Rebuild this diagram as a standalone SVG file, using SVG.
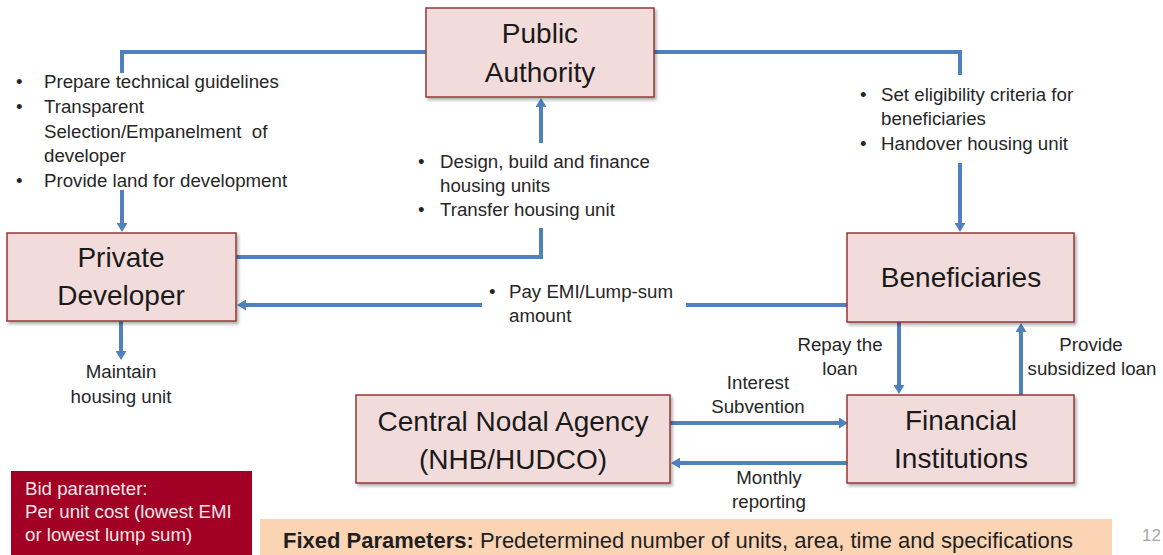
<svg xmlns="http://www.w3.org/2000/svg" width="1163" height="555" viewBox="0 0 1163 555">
<style>
.box{fill:#F2DCDB;stroke:#953735;stroke-width:1.5;filter:url(#sh)}
.big{font-family:"Liberation Sans",Arial,sans-serif;font-size:28px;fill:#1a1a1a;text-anchor:middle}
.sm{font-family:"Liberation Sans",Arial,sans-serif;font-size:18.7px;fill:#262626}
.mid{text-anchor:middle}
.con{fill:none;stroke:#4F81BD;stroke-width:4}
.arr{marker-end:url(#ah)}
</style>
<defs>
<filter id="sh" x="-10%" y="-10%" width="130%" height="140%">
<feDropShadow dx="2" dy="2.5" stdDeviation="1.5" flood-color="#000" flood-opacity="0.3"/>
</filter>
<marker id="ah" markerUnits="userSpaceOnUse" markerWidth="10" markerHeight="11" refX="1" refY="5.5" orient="auto">
<path d="M0,0 L9,5.5 L0,11 z" fill="#4F81BD"/>
</marker>
</defs>
<rect width="1163" height="555" fill="#ffffff"/>

<g id="connectors">
<path class="con" d="M426,52 H122 V73"/>
<path class="con arr" d="M122,190 V224"/>
<path class="con" d="M654,52 H960 V75"/>
<path class="con arr" d="M960,163 V224"/>
<path class="con" d="M236,257 H541 V228"/>
<path class="con arr" d="M541,143 V106"/>
<path class="con" d="M847,305 H686"/>
<path class="con arr" d="M482,305 H245"/>
<path class="con arr" d="M121,321 V352"/>
<path class="con arr" d="M899,322 V386"/>
<path class="con arr" d="M1021,395 V331"/>
<path class="con arr" d="M670,423 H840"/>
<path class="con arr" d="M847,463 H679"/>
</g>

<g id="public-authority">
<rect class="box" x="426" y="8" width="228" height="89"/>
<text class="big" x="540" y="43">Public</text>
<text class="big" x="540" y="82">Authority</text>
</g>

<g id="private-developer">
<rect class="box" x="7" y="233" width="229" height="88"/>
<text class="big" x="121" y="267">Private</text>
<text class="big" x="121" y="305">Developer</text>
</g>

<g id="beneficiaries">
<rect class="box" x="847" y="233" width="227" height="89"/>
<text class="big" x="961" y="287">Beneficiaries</text>
</g>

<g id="financial-institutions">
<rect class="box" x="847" y="395" width="227" height="88"/>
<text class="big" x="961" y="430">Financial</text>
<text class="big" x="961" y="468">Institutions</text>
</g>

<g id="central-nodal-agency">
<rect class="box" x="356" y="395" width="314" height="88"/>
<text class="big" x="513" y="431">Central Nodal Agency</text>
<text class="big" x="513" y="469">(NHB/HUDCO)</text>
</g>

<g id="bid-parameter">
<rect x="11" y="471" width="241" height="90" fill="#A20025"/>
<text class="sm" x="25" y="495" style="fill:#F8E6E6">Bid parameter:</text>
<text class="sm" x="25" y="518" style="fill:#F8E6E6">Per unit cost (lowest EMI</text>
<text class="sm" x="25" y="541" style="fill:#F8E6E6">or lowest lump sum)</text>
</g>

<g id="fixed-parameters">
<rect x="260" y="519" width="852" height="40" fill="#FBD4B4"/>
<text x="283" y="548" style="font-family:'Liberation Sans',Arial,sans-serif;font-size:22px;fill:#1f1f1f"><tspan font-weight="bold">Fixed Parameters:</tspan> Predetermined number of units, area, time and specifications</text>
</g>

<g id="labels">
<text class="sm" x="16" y="88">•</text>
<text class="sm" x="44" y="88">Prepare technical guidelines</text>
<text class="sm" x="16" y="113">•</text>
<text class="sm" x="44" y="113">Transparent</text>
<text class="sm" x="44" y="138" xml:space="preserve">Selection/Empanelment  of</text>
<text class="sm" x="44" y="162">developer</text>
<text class="sm" x="16" y="187">•</text>
<text class="sm" x="44" y="187">Provide land for development</text>

<text class="sm" x="418" y="168">•</text>
<text class="sm" x="440" y="168">Design, build and finance</text>
<text class="sm" x="440" y="192">housing units</text>
<text class="sm" x="418" y="216">•</text>
<text class="sm" x="440" y="216">Transfer housing unit</text>

<text class="sm" x="860" y="101">•</text>
<text class="sm" x="881" y="101">Set eligibility criteria for</text>
<text class="sm" x="881" y="125">beneficiaries</text>
<text class="sm" x="860" y="150">•</text>
<text class="sm" x="881" y="150">Handover housing unit</text>

<text class="sm" x="489" y="298">•</text>
<text class="sm" x="509" y="298">Pay EMI/Lump-sum</text>
<text class="sm" x="509" y="322">amount</text>

<text class="sm mid" x="121" y="378">Maintain</text>
<text class="sm mid" x="121" y="403">housing unit</text>

<text class="sm mid" x="840" y="351">Repay the</text>
<text class="sm mid" x="840" y="375">loan</text>
<text class="sm mid" x="1091" y="351">Provide</text>
<text class="sm mid" x="1092" y="375">subsidized loan</text>

<text class="sm mid" x="758" y="389">Interest</text>
<text class="sm mid" x="758" y="413">Subvention</text>
<text class="sm mid" x="769" y="484">Monthly</text>
<text class="sm mid" x="769" y="508">reporting</text>

<text x="1142" y="541" style="font-family:'Liberation Sans',Arial,sans-serif;font-size:17px;fill:#A6A6A6">12</text>
</g>
</svg>
